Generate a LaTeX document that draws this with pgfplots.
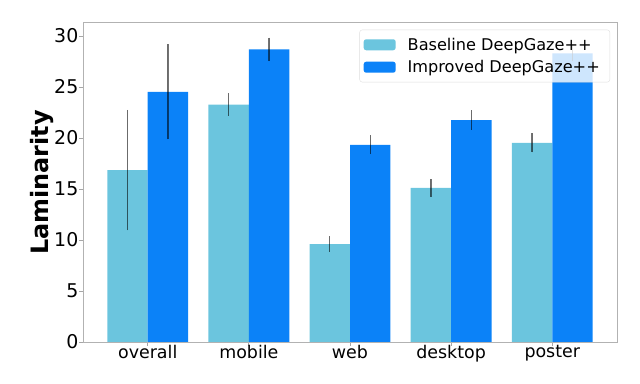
\documentclass[border=0pt]{standalone}
\usepackage{pgfplots}
\pgfplotsset{compat=1.18}
\usepackage{pgfplotstable}
\usepackage{fontspec}
\setmainfont{DejaVu Sans}
\definecolor{basecol}{HTML}{6BC5DE}
\definecolor{impcol}{HTML}{0B82F8}

% x = category position (bar shifted by 0.2), y = mean, e = error
\pgfplotstableread{
x     y      e
-0.2  16.85  5.90
0.8   23.26  1.10
1.8   9.59   0.76
2.8   15.11  0.87
3.8   19.53  0.95
}\baseline
\pgfplotstableread{
x     y      e
0.2   24.53  4.67
1.2   28.69  1.15
2.2   19.33  0.92
3.2   21.76  0.97
4.2   28.30  0.80
}\improved

\begin{document}
\begin{tikzpicture}
\useasboundingbox (0,0) rectangle (640bp,384bp);
\begin{axis}[
  at={(83bp,42bp)}, anchor=south west,
  scale only axis, width=534bp, height=319.3bp,
  xmin=-0.64, xmax=4.64, ymin=0, ymax=31.3,
  ybar, bar width=0.4, bar shift=0pt,
  xtick={0,1,2,3,4},
  xticklabels={overall,mobile,web,desktop,poster},
  ytick={0,5,10,15,20,25,30},
  xtick pos=bottom, ytick pos=left,
  tick align=outside, major tick length=3.5bp,
  tick style={black!35, line width=0.8bp},
  axis line style={black!30, line width=0.8bp},
  /pgf/number format/assume math mode=true,
  xticklabel style={font=\fontsize{17.5}{20}\selectfont, inner sep=0pt, yshift=0.5bp},
  yticklabel style={font=\fontsize{19}{22}\selectfont, inner sep=0pt, xshift=-1bp},
  ylabel={Laminarity},
  ylabel style={at={(axis description cs:-0.077,0.5)}, anchor=center,
    font=\bfseries\fontsize{24}{28}\selectfont},
  legend style={at={(1,1)}, anchor=north east, xshift=-7bp, yshift=-7bp,
    draw=black!13, rounded corners=2.5bp, fill=white, fill opacity=0.8,
    draw opacity=1, text opacity=1,
    font=\fontsize{16.2}{19}\selectfont,
    inner xsep=4bp, inner ysep=6bp, row sep=4.7bp,
    nodes={inner xsep=6bp}},
  legend cell align=left,
  legend image code/.code={\fill[#1, fill opacity=1] (0bp,-5.5bp) rectangle (32bp,5.5bp);
    \path (38bp,0bp);},
  error bars/error bar style={black, opacity=0.55, line width=1.2bp},
]
\addplot[fill=basecol, draw=none,
  error bars/.cd, y dir=both, y explicit, error mark=none]
  table[x=x, y=y, y error=e] {\baseline};
\addplot[fill=impcol, draw=none,
  error bars/.cd, y dir=both, y explicit, error mark=none]
  table[x=x, y=y, y error=e] {\improved};
\legend{Baseline DeepGaze++, Improved DeepGaze++}
\end{axis}
\end{tikzpicture}
\end{document}
